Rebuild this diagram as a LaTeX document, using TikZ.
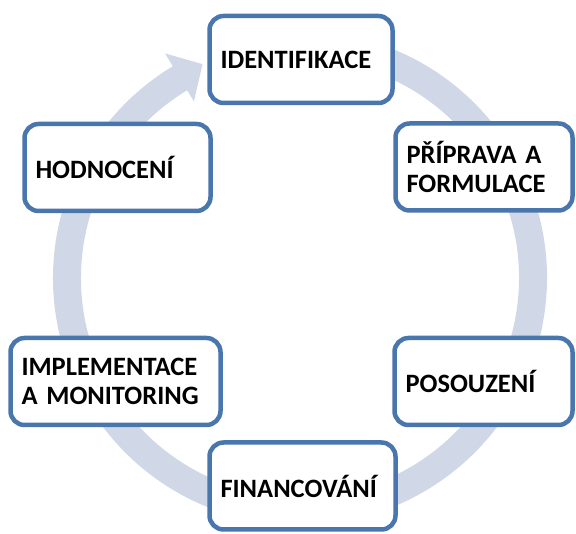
\documentclass[tikz,border=0pt]{standalone}
\usepackage{fontspec}
\setmainfont{Carlito}
\definecolor{boxblue}{RGB}{74,118,174}
\definecolor{ringblue}{RGB}{208,216,232}
\begin{document}
\begin{tikzpicture}[x=1pt,y=1pt,
  stage/.style={draw=boxblue, line width=4.5pt, fill=white, rounded corners=14pt,
    minimum height=87pt, inner xsep=11pt, inner ysep=0pt, align=left,
    font=\fontsize{26.5}{29.5}\selectfont\bfseries, text width=#1},
  ring/.style={draw=ringblue, line width=28pt},
  ringhead/.style={fill=ringblue, draw=none}]
\useasboundingbox (0,0) rectangle (576,534);
% cycle ring with arrow head
\begin{scope}[shift={(300,256)}]
  \coordinate (rs) at (80:233pt);
  \coordinate (hb1) at (121:262pt);
  \coordinate (hb2) at (121:206pt);
  \coordinate (ht) at (114.5:235pt);
  \draw[ring] (rs) arc[start angle=80, end angle=-239.2, radius=233pt];
  \fill[ringhead] (hb1) -- (ht) -- (hb2) -- cycle;
\end{scope}
% stages
\node[stage=161pt] (ident) at (301,474.5) {IDENTIFIKACE};
\node[stage=155pt] (prip) at (484,367) {PŘÍPRAVA A\\FORMULACE};
\node[stage=164pt] (hodn) at (117.5,366.5) {HODNOCENÍ};
\node[stage=188pt] (impl) at (115.5,152.5) {IMPLEMENTACE\\A MONITORING};
\node[stage=156pt] (poso) at (483.5,152.5) {POSOUZENÍ};
\node[stage=164pt] (fin) at (302.5,48) {FINANCOVÁNÍ};
\end{tikzpicture}
\end{document}
